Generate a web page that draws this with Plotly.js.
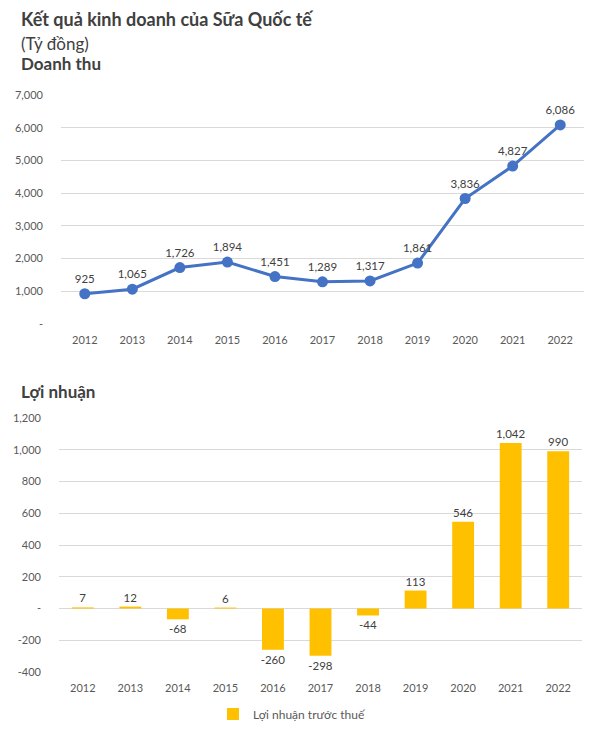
<!DOCTYPE html>
<html>
<head>
<meta charset="utf-8">
<script src="https://cdn.plot.ly/plotly-3.0.1.min.js"></script>
<style>html,body{margin:0;padding:0;background:#fff;}#chart{width:598px;height:734px;}</style>
</head>
<body>
<div id="chart"></div>
<script>
const years = ["2012","2013","2014","2015","2016","2017","2018","2019","2020","2021","2022"];
const revenue = [925, 1065, 1726, 1894, 1451, 1289, 1317, 1861, 3836, 4827, 6086];
const profit = [7, 12, -68, 6, -260, -298, -44, 113, 546, 1042, 990];
const revTickVals = [0, 1000, 2000, 3000, 4000, 5000, 6000, 7000];
const revTickText = ["-", "1,000", "2,000", "3,000", "4,000", "5,000", "6,000", "7,000"];
const profTickVals = [-400, -200, 0, 200, 400, 600, 800, 1000, 1200];
const profTickText = ["-400", "-200", "-", "200", "400", "600", "800", "1,000", "1,200"];
const titleMain = "Kết quả kinh doanh của Sữa Quốc tế";
const titleUnit = "(Tỷ đồng)";
const titleRevenue = "Doanh thu";
const titleProfit = "Lợi nhuận";
const legendProfit = "Lợi nhuận trước thuế";

const fmt = v => v.toLocaleString("en-US");
const H = 734, W = 598;
const fy = px => (H - px) / H;
const fx = px => px / W;

const FAM = "Lato, 'Open Sans', sans-serif";
const tickFont = {family: FAM, size: 11, color: "#595959"};
const labelFont = {family: FAM, size: 11.5, color: "#404040"};
const titleFont = (s) => ({family: FAM, size: s, color: "#404040"});

const traces = [
  {
    x: years, y: revenue, type: "scatter", mode: "lines+markers+text",
    xaxis: "x", yaxis: "y",
    line: {color: "#4472C4", width: 3},
    marker: {color: "#4472C4", size: 11},
    text: revenue.map(fmt), textposition: "top center", textfont: labelFont,
    showlegend: false, cliponaxis: false, hoverinfo: "skip"
  },
  {
    x: years, y: profit, type: "bar", name: legendProfit,
    xaxis: "x2", yaxis: "y2",
    marker: {color: "#FFC000"}, width: 0.46,
    text: profit.map(fmt), textposition: "outside", textfont: labelFont,
    constraintext: "none", textangle: 0,
    cliponaxis: false, showlegend: true, hoverinfo: "skip"
  }
];

const layout = {
  width: W, height: H,
  margin: {l: 0, r: 0, t: 0, b: 0},
  paper_bgcolor: "#fff", plot_bgcolor: "#fff",
  font: {family: FAM},
  showlegend: true,
  legend: {orientation: "h", x: fx(292), xanchor: "center", y: fy(714), yanchor: "middle",
           font: {family: FAM, size: 12, color: "#595959"}, itemwidth: 30},
  xaxis: {domain: [fx(61), fx(584)], type: "category", range: [-0.5, 10.5], tickfont: tickFont, tickangle: 0,
          showgrid: false, showline: false, zeroline: false, ticks: "", ticklabelstandoff: 8, fixedrange: true},
  yaxis: {domain: [fy(324), fy(95)], range: [0, 7000], tickvals: revTickVals, ticktext: revTickText,
          tickfont: tickFont, showgrid: true, gridcolor: "#D9D9D9", gridwidth: 1, zeroline: false,
          showline: false, ticks: "", ticklabelstandoff: 17, fixedrange: true},
  xaxis2: {domain: [fx(59), fx(582)], type: "category", anchor: "y2", range: [-0.5, 10.5], tickfont: tickFont, tickangle: 0,
           showgrid: false, showline: false, zeroline: false, ticks: "", ticklabelstandoff: 8, fixedrange: true},
  yaxis2: {domain: [fy(672), fy(418)], range: [-400, 1200], anchor: "x2", tickvals: profTickVals, ticktext: profTickText,
           tickfont: tickFont, showgrid: true, gridcolor: "#D9D9D9", gridwidth: 1, zeroline: false,
           showline: false, ticks: "", ticklabelstandoff: 17, fixedrange: true},
  annotations: [
    {text: "<b>" + titleMain + "</b>", xref: "paper", yref: "paper", x: fx(19), y: fy(19), xanchor: "left", yanchor: "middle",
     showarrow: false, font: titleFont(18)},
    {text: titleUnit, xref: "paper", yref: "paper", x: fx(19), y: fy(43), xanchor: "left", yanchor: "middle",
     showarrow: false, font: titleFont(17)},
    {text: "<b>" + titleRevenue + "</b>", xref: "paper", yref: "paper", x: fx(19), y: fy(64), xanchor: "left", yanchor: "middle",
     showarrow: false, font: titleFont(17)},
    {text: "<b>" + titleProfit + "</b>", xref: "paper", yref: "paper", x: fx(19), y: fy(391), xanchor: "left", yanchor: "middle",
     showarrow: false, font: titleFont(17)}
  ]
};

Plotly.newPlot("chart", traces, layout, {displayModeBar: false, staticPlot: true});
</script>
</body>
</html>
